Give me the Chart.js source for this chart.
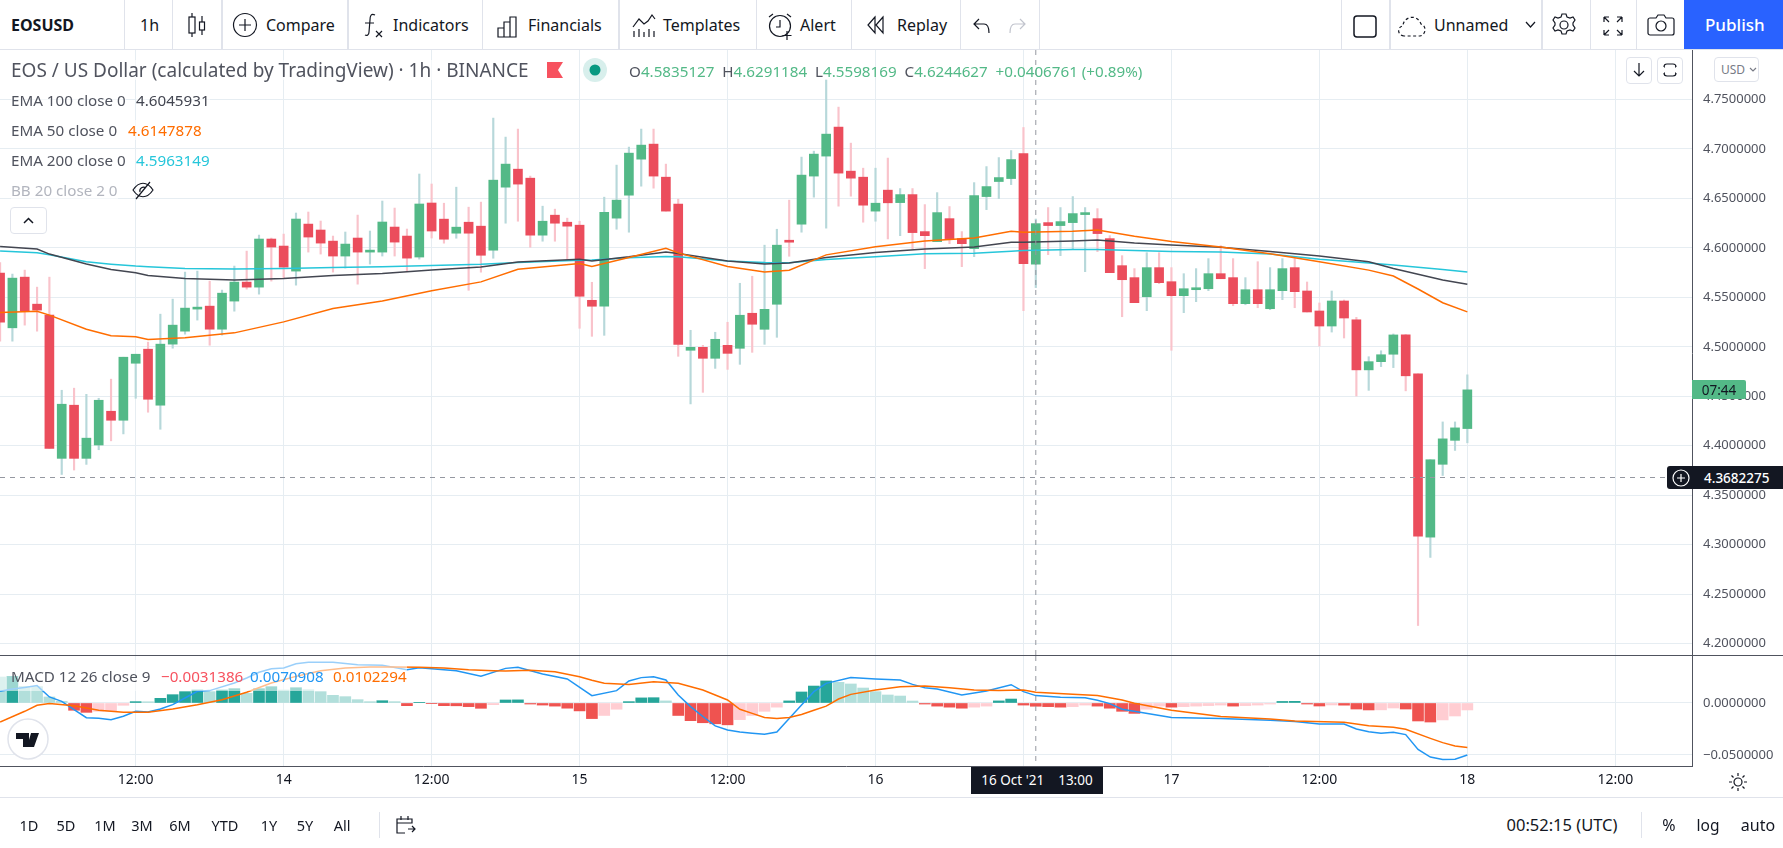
<!DOCTYPE html>
<html>
<head>
<meta charset="utf-8">
<title>EOSUSD</title>
<script src="https://cdn.jsdelivr.net/npm/chart.js@4"></script>
<style>
html,body{margin:0;padding:0;background:#fff;}
body{width:1783px;height:848px;overflow:hidden;position:relative;font-family:"Noto Sans",sans-serif;color:#131722;}
.t{position:absolute;white-space:nowrap;line-height:20px;}
.bar{font-size:16px;top:15px;}
.leg{font-size:15.2px;color:#50535e;}
.range{font-size:14.5px;top:815px;transform:translateX(-50%);}
.sep{position:absolute;width:1px;background:#e0e3eb;}
.pane{position:absolute;left:0;width:1783px;}
.btn{position:absolute;border:1px solid #e0e3eb;border-radius:4px;background:#fff;box-sizing:border-box;}
svg{position:absolute;fill:none;stroke:#131722;stroke-width:1.2;}
.tag{position:absolute;background:#131722;color:#fff;font-size:13.5px;line-height:20px;}
</style>
</head>
<body>

<div class="pane" style="top:50px;height:606px"><canvas id="priceChart"></canvas></div>
<div class="pane" style="top:656px;height:141px"><canvas id="macdChart"></canvas></div>
<div style="position:absolute;left:0;top:655px;width:1783px;height:1px;background:#50535e"></div>

<!-- top toolbar -->
<div style="position:absolute;left:0;top:0;width:1783px;height:49px;border-bottom:1px solid #e0e3eb;border-top:1px solid #e0e3eb;box-sizing:content-box;margin-top:-1px"></div>
<div class="sep" style="left:124px;top:0;height:49px"></div>
<div class="sep" style="left:172px;top:0;height:49px"></div>
<div class="sep" style="left:221px;top:0;height:49px;width:2px"></div>
<div class="sep" style="left:347px;top:0;height:49px;width:2px"></div>
<div class="sep" style="left:482px;top:0;height:49px"></div>
<div class="sep" style="left:618px;top:0;height:49px;width:2px"></div>
<div class="sep" style="left:756px;top:0;height:49px"></div>
<div class="sep" style="left:851px;top:0;height:49px"></div>
<div class="sep" style="left:960px;top:0;height:49px"></div>
<div class="sep" style="left:1039px;top:0;height:49px"></div>
<div class="sep" style="left:1341px;top:0;height:49px"></div>
<div class="sep" style="left:1389px;top:0;height:49px;width:2px"></div>
<div class="sep" style="left:1541px;top:0;height:49px;width:2px"></div>
<div class="sep" style="left:1590px;top:0;height:49px"></div>
<div class="sep" style="left:1636px;top:0;height:49px"></div>

<span class="t bar" style="left:11px;font-weight:700">EOSUSD</span>
<span class="t bar" style="left:140px">1h</span>
<span class="t bar" style="left:266px">Compare</span>
<span class="t bar" style="left:393px">Indicators</span>
<span class="t bar" style="left:528px">Financials</span>
<span class="t bar" style="left:663px">Templates</span>
<span class="t bar" style="left:800px">Alert</span>
<span class="t bar" style="left:897px">Replay</span>
<span class="t bar" style="left:1434px">Unnamed</span>
<div style="position:absolute;left:1684px;top:0;width:99px;height:49px;background:#2962ff"></div>
<span class="t bar" style="left:1705px;color:#fff;font-weight:500;font-size:17px">Publish</span>

<svg style="left:186px;top:12px" width="24" height="26"><path d="M6 1v4M6 21v4M16 4v6M16 18v5"/><rect x="3" y="5" width="6" height="16"/><rect x="13.500" y="10" width="5" height="8"/></svg>
<svg style="left:232px;top:12px" width="26" height="26"><circle cx="13" cy="13" r="11.500"/><path d="M13 7v12M7 13h12"/></svg>
<svg style="left:362px;top:12px" width="24" height="28"><path d="M13 3c-4-2-5 1-5 5l-1 12c0 3-2 4-4 3M3 11h9M14 19l6 6M20 19l-6 6"/></svg>
<svg style="left:496px;top:15px" width="24" height="24"><path d="M1 22v-9h6v9zM7 22V7h6v15zM13 22V2h6v20z" transform="translate(1 0)"/></svg>
<svg style="left:631px;top:13px" width="26" height="26"><path d="M2 14l6-8 5 5 4-3 4-6 3 4M3 18v6M8 16v8M13 19v5M18 16v8M23 18v6"/></svg>
<svg style="left:767px;top:12px" width="26" height="30"><circle cx="13" cy="14" r="10.500"/><path d="M2 5l4-3M24 5l-4-3M13 8v7h-4M20 19v9M15.500 23.500h9"/></svg>
<svg style="left:866px;top:15px" width="20" height="20"><path d="M9 2L2 10l7 8zM17 2l-7 8 7 8z"/></svg>
<svg style="left:972px;top:17px" width="20" height="18"><path d="M7 2L2 7l5 5M2 7h10c3 0 5 2 5 9"/></svg>
<svg style="left:1007px;top:17px;stroke:#c1c4cd" width="20" height="18"><path d="M13 2l5 5-5 5M18 7H8c-3 0-5 2-5 9"/></svg>
<svg style="left:1352px;top:14px;stroke-width:1.500" width="26" height="24"><rect x="2" y="2" width="22" height="21" rx="3"/></svg>
<svg style="left:1397px;top:13px;stroke-dasharray:3 2.500" width="30" height="26"><path d="M7 23c-7-1-7-9-1-10 0-9 14-13 18-2 6 2 5 11-1 12z"/></svg>
<svg style="left:1525px;top:21px" width="12" height="8"><path d="M1 1l4.500 5L10 1"/></svg>
<svg style="left:1551px;top:12px" width="26" height="26"><circle cx="13" cy="13" r="4"/><path d="M11 2h4l1 3 3 1 3-1 2 3-2 3v2l2 3-2 3-3-1-3 1-1 3h-4l-1-3-3-1-3 1-2-3 2-3v-2l-2-3 2-3 3 1 3-1z"/></svg>
<svg style="left:1601px;top:14px" width="24" height="24"><path d="M3 3l5 5M3 3v5M3 3h5M21 3l-5 5M21 3v5M21 3h-5M3 21l5-5M3 21v-5M3 21h5M21 21l-5-5M21 21v-5M21 21h-5"/></svg>
<svg style="left:1647px;top:13px" width="28" height="24"><path d="M3 5h6l2-3h6l2 3h6c1 0 2 1 2 2v13c0 1-1 2-2 2H3c-1 0-2-1-2-2V7c0-1 1-2 2-2z"/><circle cx="14" cy="13" r="5"/></svg>

<!-- legend on the price pane -->
<span class="t" style="left:11px;top:60px;font-size:19px;color:#50535e;background:rgba(255,255,255,.6)">EOS / US Dollar (calculated by TradingView) · 1h · BINANCE</span>
<svg style="left:547px;top:62px;stroke:none;fill:#f7525f" width="16" height="16"><path d="M0 0h16l-5 8 5 8H0z"/></svg>
<svg style="left:583px;top:58px;stroke:none" width="24" height="24"><circle cx="12" cy="12" r="12" fill="#d8efec"/><circle cx="12" cy="12" r="5.500" fill="#089981"/></svg>
<span class="t" style="left:629px;top:61px;font-size:15.2px;color:#50535e">O<span style="color:#53b987">4.5835127</span> &nbsp;H<span style="color:#53b987">4.6291184</span> &nbsp;L<span style="color:#53b987">4.5598169</span> &nbsp;C<span style="color:#53b987">4.6244627</span> &nbsp;<span style="color:#53b987">+0.0406761 (+0.89%)</span></span>

<span class="t leg" style="left:11px;top:90px;background:rgba(255,255,255,.6)">EMA 100 close 0</span>
<span class="t leg" style="left:136px;top:90px;color:#434651;background:rgba(255,255,255,.6)">4.6045931</span>
<span class="t leg" style="left:11px;top:120px;background:rgba(255,255,255,.6)">EMA 50 close 0</span>
<span class="t leg" style="left:128px;top:120px;color:#ff6d00;background:rgba(255,255,255,.6)">4.6147878</span>
<span class="t leg" style="left:11px;top:150px;background:rgba(255,255,255,.6)">EMA 200 close 0</span>
<span class="t leg" style="left:136px;top:150px;color:#26c6da;background:rgba(255,255,255,.6)">4.5963149</span>
<span class="t leg" style="left:11px;top:180px;color:#b2b5be;background:rgba(255,255,255,.6)">BB 20 close 2 0</span>
<svg style="left:132px;top:180px" width="22" height="20"><path d="M1 10c6-9 14-9 20 0-6 9-14 9-20 0z"/><path d="M4 19L18 2M8 12c-1-4 3-6 6-4"/></svg>
<div class="btn" style="left:10px;top:207px;width:37px;height:27px"></div>
<svg style="left:23px;top:217px;stroke-width:1.500" width="12" height="7"><path d="M1 6l4.500-4.500L10 6"/></svg>

<!-- price pane buttons -->
<div class="btn" style="left:1626px;top:57px;width:26px;height:27px"></div>
<svg style="left:1632px;top:62px" width="14" height="16"><path d="M7 1v13M2 9l5 5 5-5"/></svg>
<div class="btn" style="left:1657px;top:57px;width:26px;height:27px"></div>
<svg style="left:1663px;top:63px" width="14" height="14"><path d="M1 4c0-2 1-3 3-3h6c2 0 3 1 3 3M1 10c0 2 1 3 3 3h6c2 0 3-1 3-3M1 4h1M12 4h1M1 10h1M12 10h1"/></svg>
<div class="btn" style="left:1714px;top:57px;width:45px;height:25px"></div>
<span class="t" style="left:1721px;top:60px;font-size:12px;color:#787b86">USD</span>
<svg style="left:1749px;top:67px;stroke:#787b86" width="8" height="6"><path d="M1 1l3 3 3-3"/></svg>

<!-- price tags on the axis -->
<div class="tag" style="left:1692px;top:380px;width:54px;height:19px;background:#53b987;color:#131722;border-radius:0 2px 2px 0;text-align:center">07:44</div>
<div class="tag" style="left:1667px;top:466px;width:116px;height:23px;border-radius:3px 0 0 3px"><span style="position:absolute;left:37px;top:2px;font-weight:500">4.3682275</span></div>
<svg style="left:1672px;top:469px;stroke:#fff" width="18" height="18"><circle cx="9" cy="9" r="8"/><path d="M9 5v8M5 9h8"/></svg>

<!-- legend on the MACD pane -->
<div style="position:absolute;left:0;top:660px;width:407px;height:31px;background:rgba(255,255,255,.55)"></div>
<span class="t leg" style="left:11px;top:666px">MACD 12 26 close 9</span>
<span class="t leg" style="left:161px;top:666px;color:#f7525f">−0.0031386</span>
<span class="t leg" style="left:250px;top:666px;color:#2196f3">0.0070908</span>
<span class="t leg" style="left:333px;top:666px;color:#ff6d00">0.0102294</span>
<svg style="left:7px;top:718px;stroke:#e0e3eb;stroke-width:1.500" width="42" height="42"><circle cx="21" cy="21" r="20" fill="#fff"/><path d="M9 15h13v14h-6v-8H9zM24 15h8l-5 14h-7z" fill="#131722" stroke="none"/></svg>

<!-- time axis tag -->
<div class="tag" style="left:971px;top:767px;width:132px;height:27px;line-height:27px;text-align:center;white-space:pre">16 Oct '21    13:00</div>
<svg style="left:1728px;top:772px" width="20" height="20"><circle cx="10" cy="10" r="4"/><path d="M10 1v3M10 16v3M1 10h3M16 10h3M3.500 3.500l2 2M14.500 14.500l2 2M3.500 16.500l2-2M14.500 5.500l2-2"/></svg>

<!-- bottom toolbar -->
<div style="position:absolute;left:0;top:797px;width:1783px;height:1px;background:#e0e3eb"></div>
<span class="t range" style="left:29px">1D</span>
<span class="t range" style="left:66px">5D</span>
<span class="t range" style="left:105px">1M</span>
<span class="t range" style="left:142px">3M</span>
<span class="t range" style="left:180px">6M</span>
<span class="t range" style="left:225px">YTD</span>
<span class="t range" style="left:269px">1Y</span>
<span class="t range" style="left:305px">5Y</span>
<span class="t range" style="left:342px">All</span>
<div class="sep" style="left:379px;top:812px;height:26px"></div>
<svg style="left:395px;top:815px" width="22" height="22"><path d="M2 4h15v4H2zM2 8v10h8M6 1v4M13 1v4M13 14h7M17 11l3 3-3 3"/></svg>
<span class="t range" style="left:1562px;font-size:16.5px">00:52:15 (UTC)</span>
<div class="sep" style="left:1641px;top:812px;height:26px"></div>
<span class="t range" style="left:1669px;font-size:16px">%</span>
<span class="t range" style="left:1708px;font-size:15.5px">log</span>
<span class="t range" style="left:1758px;font-size:16px">auto</span>

<script>
/* Hours counted from 13 Oct 12:00, one bar per hour */
const barHours = []
for (let h = -11; h <= 108; h++) barHours.push(h)

/* Candles */
const opens = [
  4.5745, 4.5192, 4.5704, 4.5431, 4.5320, 4.3873, 4.4410, 4.3873, 4.4008, 4.4349,
  4.4258, 4.4834, 4.4976, 4.4410, 4.5027, 4.5158, 4.5381, 4.5411, 4.5178, 4.5462,
  4.5654, 4.5603, 4.6089, 4.6018, 4.5765, 4.6240, 4.6180, 4.6068, 4.5917, 4.6099,
  4.5957, 4.5957, 4.6210, 4.6119, 4.5907, 4.6453, 4.6290, 4.6148, 4.6259, 4.6219,
  4.5976, 4.6613, 4.6795, 4.6704, 4.6128, 4.6330, 4.6259, 4.6229, 4.5470, 4.5410,
  4.6300, 4.6532, 4.6896, 4.7048, 4.6714, 4.6441, 4.4965, 4.4995, 4.4884, 4.5015,
  4.4985, 4.5339, 4.5177, 4.5430, 4.6077, 4.6239, 4.6725, 4.6927, 4.7220, 4.6775,
  4.6714, 4.6371, 4.6583, 4.6457, 4.6538, 4.6164, 4.6063, 4.6295, 4.6093, 4.5992,
  4.6518, 4.6670, 4.6700, 4.6953, 4.5835127, 4.6255, 4.6225, 4.6255, 4.6336, 4.6295,
  4.6093, 4.5820, 4.5699, 4.5506, 4.5800, 4.5658, 4.5517, 4.5577, 4.5587, 4.5739,
  4.5699, 4.5436, 4.5577, 4.5385, 4.5567, 4.5800, 4.5564, 4.5362, 4.5210, 4.5463,
  4.5273, 4.4767, 4.4850, 4.4925, 4.5121, 4.4727, 4.3077, 4.3813, 4.4055, 4.4174
]
const highs = [
  4.5850, 4.5735, 4.5775, 4.5603, 4.5704, 4.4561, 4.4582, 4.4520, 4.4480, 4.4673,
  4.4895, 4.4925, 4.5047, 4.5330, 4.5482, 4.5755, 4.5765, 4.5664, 4.5573, 4.5816,
  4.5967, 4.6129, 4.6099, 4.6139, 4.6352, 4.6362, 4.6271, 4.6119, 4.6160, 4.6331,
  4.6170, 4.6473, 4.6402, 4.6190, 4.6746, 4.6645, 4.6451, 4.6613, 4.6411, 4.6462,
  4.7311, 4.7119, 4.7200, 4.6725, 4.6421, 4.6391, 4.6300, 4.6269, 4.5652, 4.6512,
  4.6836, 4.7018, 4.7200, 4.7200, 4.6846, 4.6492, 4.5167, 4.5015, 4.5147, 4.5248,
  4.5642, 4.5713, 4.6027, 4.6188, 4.6482, 4.6917, 4.6977, 4.7696, 4.7422, 4.7058,
  4.6805, 4.6805, 4.6907, 4.6599, 4.6599, 4.6437, 4.6558, 4.6417, 4.6164, 4.6659,
  4.6821, 4.6912, 4.6983, 4.7216, 4.6291184, 4.6407, 4.6407, 4.6518, 4.6407, 4.6396,
  4.6123, 4.5921, 4.5790, 4.5951, 4.5951, 4.5800, 4.5739, 4.5790, 4.5891, 4.6022,
  4.5891, 4.5699, 4.5860, 4.5800, 4.5891, 4.5891, 4.5655, 4.5443, 4.5564, 4.5473,
  4.5298, 4.4900, 4.4960, 4.5130, 4.5125, 4.4727, 4.3859, 4.4241, 4.4241, 4.4717
]
const lows = [
  4.5057, 4.5057, 4.5219, 4.5158, 4.3974, 4.3710, 4.3755, 4.3812, 4.3960, 4.4050,
  4.4120, 4.4480, 4.4339, 4.4167, 4.4986, 4.5128, 4.5270, 4.5016, 4.5118, 4.5360,
  4.5583, 4.5532, 4.5664, 4.5694, 4.5623, 4.5957, 4.5937, 4.5755, 4.5795, 4.5633,
  4.5836, 4.5917, 4.5917, 4.5765, 4.5886, 4.6099, 4.6047, 4.6097, 4.5571, 4.5754,
  4.5895, 4.6249, 4.6269, 4.6006, 4.6067, 4.6067, 4.5885, 4.5187, 4.5106, 4.5116,
  4.6188, 4.6158, 4.6623, 4.6603, 4.6371, 4.4904, 4.4423, 4.4540, 4.4782, 4.4772,
  4.4823, 4.4944, 4.5025, 4.5096, 4.5915, 4.6158, 4.6512, 4.6199, 4.6421, 4.6522,
  4.6259, 4.6269, 4.6090, 4.6123, 4.5992, 4.5790, 4.6063, 4.6042, 4.5810, 4.5911,
  4.6386, 4.6498, 4.6639, 4.5365, 4.5598169, 4.5931, 4.5921, 4.5982, 4.5759, 4.5962,
  4.5749, 4.5304, 4.5446, 4.5365, 4.5638, 4.4965, 4.5345, 4.5456, 4.5567, 4.5688,
  4.5415, 4.5425, 4.5395, 4.5375, 4.5476, 4.5395, 4.5352, 4.5008, 4.5149, 4.5089,
  4.4503, 4.4560, 4.4800, 4.4790, 4.4555, 4.2184, 4.2872, 4.3700, 4.3953, 4.4030
]
const closes = [
  4.5249, 4.5694, 4.5360, 4.5371, 4.3974, 4.4420, 4.3873, 4.4077, 4.4460, 4.4258,
  4.4895, 4.4925, 4.4470, 4.5027, 4.5219, 4.5391, 4.5401, 4.5178, 4.5542, 4.5654,
  4.5603, 4.6089, 4.6008, 4.5805, 4.6291, 4.6109, 4.6048, 4.5917, 4.6038, 4.5957,
  4.5977, 4.6261, 4.6058, 4.5896, 4.6443, 4.6170, 4.6087, 4.6209, 4.6148, 4.5925,
  4.6684, 4.6846, 4.6644, 4.6128, 4.6269, 4.6249, 4.6219, 4.5511, 4.5410, 4.6360,
  4.6482, 4.6957, 4.7038, 4.6725, 4.6371, 4.5025, 4.4995, 4.4884, 4.5076, 4.4934,
  4.5319, 4.5228, 4.5379, 4.6027, 4.6057, 4.6735, 4.6947, 4.7149, 4.6755, 4.6704,
  4.6431, 4.6451, 4.6455, 4.6538, 4.6154, 4.6123, 4.6356, 4.6093, 4.6042, 4.6528,
  4.6619, 4.6710, 4.6892, 4.5840, 4.6244627, 4.6225, 4.6265, 4.6346, 4.6356, 4.6144,
  4.5749, 4.5678, 4.5446, 4.5800, 4.5648, 4.5517, 4.5587, 4.5597, 4.5739, 4.5688,
  4.5436, 4.5577, 4.5436, 4.5577, 4.5790, 4.5557, 4.5352, 4.5210, 4.5463, 4.5291,
  4.4767, 4.4850, 4.4920, 4.5120, 4.4707, 4.3088, 4.3859, 4.4070, 4.4181, 4.4565
]

/* EMA lines, read at these hours */
const emaHours = [-11, -8, -7, -4, -2, 0, 1, 4, 8, 12, 16, 20, 24, 28, 31, 36, 37, 40, 43, 44, 48,
  51, 53, 56, 60, 64, 68, 71, 72, 76, 78, 81, 84, 88, 92, 96, 100, 102, 104, 106, 108]
const ema50 = [4.5347, 4.5360, 4.5320, 4.5178, 4.5111, 4.5101, 4.5074, 4.5091, 4.5141, 4.5252, 4.5387, 4.5462,
  4.5566, 4.5656, 4.5784, 4.5841, 4.5811, 4.5902, 4.5996, 4.5949, 4.5811, 4.5757, 4.5774, 4.5929, 4.6010,
  4.6069, 4.6100, 4.6167, 4.6157, 4.6167, 4.6181, 4.6117, 4.6063, 4.6009, 4.5941, 4.5860, 4.5775, 4.5715,
  4.5584, 4.5445, 4.5353]
const ema100 = [4.6014, 4.5988, 4.5937, 4.5836, 4.5782, 4.5748, 4.5721, 4.5691, 4.5674, 4.5691, 4.5721, 4.5741,
  4.5775, 4.5807, 4.5858, 4.5885, 4.5868, 4.5909, 4.5959, 4.5942, 4.5868, 4.5838, 4.5848, 4.5902, 4.5952,
  4.5989, 4.6009, 4.6056, 4.6056, 4.6069, 4.6080, 4.6049, 4.6029, 4.6005, 4.5962, 4.5917, 4.5860, 4.5791,
  4.5733, 4.5675, 4.5632]
const ema200 = [4.5967, 4.5950, 4.5930, 4.5859, 4.5835, 4.5816, 4.5810, 4.5792, 4.5785, 4.5792, 4.5802, 4.5809,
  4.5822, 4.5834, 4.5852, 4.5875, 4.5878, 4.5899, 4.5912, 4.5909, 4.5868, 4.5852, 4.5850, 4.5882, 4.5909,
  4.5941, 4.5945, 4.5965, 4.5972, 4.5982, 4.5982, 4.5973, 4.5962, 4.5958, 4.5938, 4.5885, 4.5848, 4.5826,
  4.5804, 4.5780, 4.5756]

/* MACD pane */
const histValues = [
  0.0250, 0.0256, 0.0160, 0.0158, 0.0058, 0.0016, -0.0070, -0.0090, -0.0080, -0.0079,
  -0.0022, 0.0013, 0.0012, 0.0045, 0.0080, 0.0109, 0.0125, 0.0109, 0.0125, 0.0138,
  0.0093, 0.0138, 0.0157, 0.0125, 0.0147, 0.0128, 0.0109, 0.0074, 0.0061, 0.0032,
  0.0013, 0.0022, 0.0013, -0.0026, 0.0003, -0.0003, -0.0026, -0.0027, -0.0035, -0.0051,
  -0.0016, 0.0029, 0.0030, -0.0010, -0.0020, -0.0030, -0.0050, -0.0076, -0.0150, -0.0120,
  -0.0060, 0.0013, 0.0049, 0.0051, 0.0020, -0.0120, -0.0170, -0.0190, -0.0200, -0.0210,
  -0.0160, -0.0120, -0.0080, -0.0040, 0.0020, 0.0106, 0.0163, 0.0212, 0.0199, 0.0183,
  0.0144, 0.0109, 0.0077, 0.0067, 0.0019, -0.0010, -0.0030, -0.0040, -0.0050, -0.0040,
  -0.0030, 0.0020, 0.0038, -0.0020, -0.0031386, -0.0035, -0.0040, -0.0035, -0.0020, -0.0030,
  -0.0050, -0.0080, -0.0100, -0.0060, -0.0030, -0.0040, -0.0035, -0.0030, -0.0025, -0.0020,
  -0.0030, -0.0025, -0.0020, -0.0010, 0.0015, 0.0016, -0.0010, -0.0029, -0.0019, -0.0021,
  -0.0058, -0.0067, -0.0066, -0.0048, -0.0058, -0.0173, -0.0183, -0.0163, -0.0125, -0.0067
]
const macdHours = [-11, -10, -9, -8, -7, -6, -5, -4, -3, -2, -1, 0, 1, 2, 3, 4, 5, 6, 8, 9, 10, 11, 12, 13, 14, 16, 18, 20,
  22, 23, 24, 26, 28, 30, 31, 33, 35, 37, 39, 40, 41, 42, 43, 44, 45, 46, 47, 48, 49, 50, 51, 52, 53, 54, 55, 56, 58, 60,
  62, 63, 64, 65, 67, 69, 71, 72, 73, 75, 77, 78, 79, 80, 84, 88, 92, 94, 96, 98, 99, 100, 101, 102, 103, 104, 105, 106, 107, 108]
const macdValues = [0.0112, 0.0135, 0.0150, 0.0167, 0.0058, 0.0016, -0.0064, -0.0141, -0.0147, -0.0160, -0.0128, -0.0080,
  -0.0087, -0.0058, -0.0016, 0.0048, 0.0112, 0.0119, 0.0192, 0.0240, 0.0295, 0.0330, 0.0337, 0.0378, 0.0391, 0.0391, 0.0369, 0.0362,
  0.0320, 0.0340, 0.0330, 0.0311, 0.0258, 0.0333, 0.0343, 0.0279, 0.0231, 0.0071, 0.0119, 0.0212, 0.0244, 0.0253, 0.0221, 0.0077,
  -0.0035, -0.0130, -0.0220, -0.0260, -0.0280, -0.0290, -0.0300, -0.0280, -0.0150, -0.0020, 0.0109, 0.0189, 0.0244, 0.0231,
  0.0221, 0.0179, 0.0147, 0.0135, 0.0077, 0.0115, 0.0176, 0.0109, 0.0070908, 0.0055, 0.0051, 0.0026, -0.0006, -0.0060, -0.0140, -0.0150,
  -0.0165, -0.0179, -0.0202, -0.0202, -0.0250, -0.0276, -0.0292, -0.0282, -0.0304, -0.0446, -0.0520, -0.0543, -0.0540, -0.0500]
const signalHours = [-11, -9, -8, -7, -5, -3, -1, 1, 3, 5, 7, 9, 11, 13, 15, 17, 19, 21, 23, 25, 27, 29, 30, 32, 34, 36, 37, 38, 40, 42,
  44, 46, 48, 49, 50, 51, 52, 53, 54, 55, 56, 57, 58, 60, 62, 64, 66, 68, 70, 72, 73, 76, 78, 80, 81, 84, 88, 92, 94, 98, 100, 102, 103,
  105, 106, 107, 108]
const signalValues = [-0.0183, -0.0080, -0.0022, -0.0006, -0.0026, -0.0070, -0.0090, -0.0090, -0.0058, -0.0016, 0.0032, 0.0103,
  0.0192, 0.0256, 0.0311, 0.0337, 0.0346, 0.0346, 0.0343, 0.0337, 0.0320, 0.0311, 0.0308, 0.0314, 0.0301, 0.0253, 0.0218, 0.0189,
  0.0179, 0.0205, 0.0189, 0.0125, 0.0029, -0.0060, -0.0100, -0.0140, -0.0150, -0.0140, -0.0110, -0.0070, -0.0030, 0.0038, 0.0083,
  0.0125, 0.0157, 0.0163, 0.0147, 0.0125, 0.0119, 0.0125, 0.0102294, 0.0083, 0.0071, 0.0029, -0.0003, -0.0070, -0.0130, -0.0155,
  -0.0173, -0.0186, -0.0218, -0.0234, -0.0253, -0.0340, -0.0381, -0.0413, -0.0429]

/* Axis ticks */
const priceTicks = [4.2, 4.25, 4.3, 4.35, 4.4, 4.45, 4.5, 4.55, 4.6, 4.65, 4.7, 4.75]
const macdTicks = [-0.05, 0]
const timeTickHours = [0, 12, 24, 36, 48, 60, 72, 84, 96, 108, 120]
const timeTickLabels = ['12:00', '14', '12:00', '15', '12:00', '16', '12:00', '17', '12:00', '18', '12:00']

/* Crosshair */
const crossHour = 73
const crossPrice = 4.3682275

const green = '#53b987', red = '#eb4d5c'
const gridColor = '#e6edf2', axisColor = '#50535e'
const axisFamily = '"Noto Sans", sans-serif'
const hourMin = -11.006, hourMax = 126.22

function points(hours, values) {
    return hours.map((h, i) => ({ x: h, y: values[i] }))
}
function lineSet(hours, values, color, order) {
    return { type: 'line', data: points(hours, values), borderColor: color, borderWidth: 1.5,
        pointRadius: 0, tension: 0, order: order, yAxisID: 'y' }
}
function noPadding(s) {
    s.paddingTop = s.paddingBottom = s.paddingLeft = s.paddingRight = 0
}
function timeAxis(showLabels) {
    return {
        type: 'linear', min: hourMin, max: hourMax, display: true, offset: false,
        afterBuildTicks: s => { s.ticks = timeTickHours.map(v => ({ value: v })) },
        afterFit: s => { s.height = showLabels ? 31 : 0; noPadding(s) },
        grid: { color: gridColor, drawTicks: false, offset: false },
        border: showLabels ? { color: axisColor } : { display: false },
        ticks: {
            display: showLabels, autoSkip: false, maxRotation: 0, color: '#131722',
            font: { family: axisFamily, size: 14 }, padding: 6,
            callback: v => timeTickLabels[timeTickHours.indexOf(v)]
        }
    }
}
function valueAxis(min, max, tickList) {
    return {
        position: 'right', min: min, max: max,
        afterBuildTicks: s => { s.ticks = tickList.map(v => ({ value: v })) },
        afterFit: s => { s.width = 91; noPadding(s) },
        grid: { color: gridColor, drawTicks: false },
        border: { color: axisColor },
        ticks: {
            color: '#50535e', font: { family: axisFamily, size: 13 }, padding: 11, autoSkip: false,
            callback: v => v.toFixed(7).replace('-', '−')
        }
    }
}
const crosshair = {
    id: 'crosshair',
    afterDatasetsDraw(chart, args, opts) {
        const c = chart.ctx, a = chart.chartArea
        const x = chart.scales.x.getPixelForValue(crossHour)
        c.save()
        c.strokeStyle = '#9598a1'
        c.lineWidth = 1
        c.setLineDash([5, 5])
        c.beginPath()
        c.moveTo(x, a.top)
        c.lineTo(x, a.bottom)
        if (opts.price) {
            const y = Math.round(chart.scales.y.getPixelForValue(opts.price)) + 0.5
            c.moveTo(0, y)
            c.lineTo(a.right, y)
        }
        c.stroke()
        c.restore()
    }
}

Chart.defaults.animation = false
Chart.defaults.responsive = true
Chart.defaults.maintainAspectRatio = false

/*Price chart*/
new Chart(document.getElementById('priceChart').getContext('2d'), {
    type: 'bar',
    data: {
        datasets: [
            lineSet(emaHours, ema50, '#ff6d00', 0),
            lineSet(emaHours, ema100, '#434651', 1),
            lineSet(emaHours, ema200, '#26c6da', 2),
            {
                data: barHours.map((h, i) => ({ x: h, y: [opens[i], closes[i]] })),
                backgroundColor: closes.map((c, i) => c >= opens[i] ? green : red),
                barThickness: 9, grouped: false, order: 3
            },
            {
                data: barHours.map((h, i) => ({ x: h, y: [lows[i], highs[i]] })),
                backgroundColor: closes.map((c, i) => c >= opens[i] ? '#b7d8da' : '#f9c3cb'),
                barThickness: 1.5, grouped: false, order: 4
            }
        ]
    },
    options: {
        layout: { padding: 0 },
        plugins: { legend: { display: false }, tooltip: { enabled: false }, crosshair: { price: crossPrice } },
        scales: { x: timeAxis(false), y: valueAxis(4.1876, 4.7999, priceTicks) }
    },
    plugins: [crosshair]
})

/*MACD chart*/
new Chart(document.getElementById('macdChart').getContext('2d'), {
    type: 'bar',
    data: {
        datasets: [
            lineSet(macdHours, macdValues, '#2196f3', 1),
            lineSet(signalHours, signalValues, '#ff6d00', 0),
            {
                data: barHours.map((h, i) => ({ x: h, y: histValues[i] })),
                backgroundColor: histValues.map((v, i) => {
                    const prev = i ? histValues[i - 1] : v
                    if (v >= 0) return v > prev ? '#26a69a' : '#b2dfdb'
                    return v < prev ? '#ef5350' : '#ffcdd2'
                }),
                barThickness: 11, grouped: false, order: 2
            }
        ]
    },
    options: {
        layout: { padding: 0 },
        plugins: { legend: { display: false }, tooltip: { enabled: false }, crosshair: {} },
        scales: { x: timeAxis(true), y: valueAxis(-0.0606, 0.0452, macdTicks) }
    },
    plugins: [crosshair]
})
</script>
</body>
</html>
